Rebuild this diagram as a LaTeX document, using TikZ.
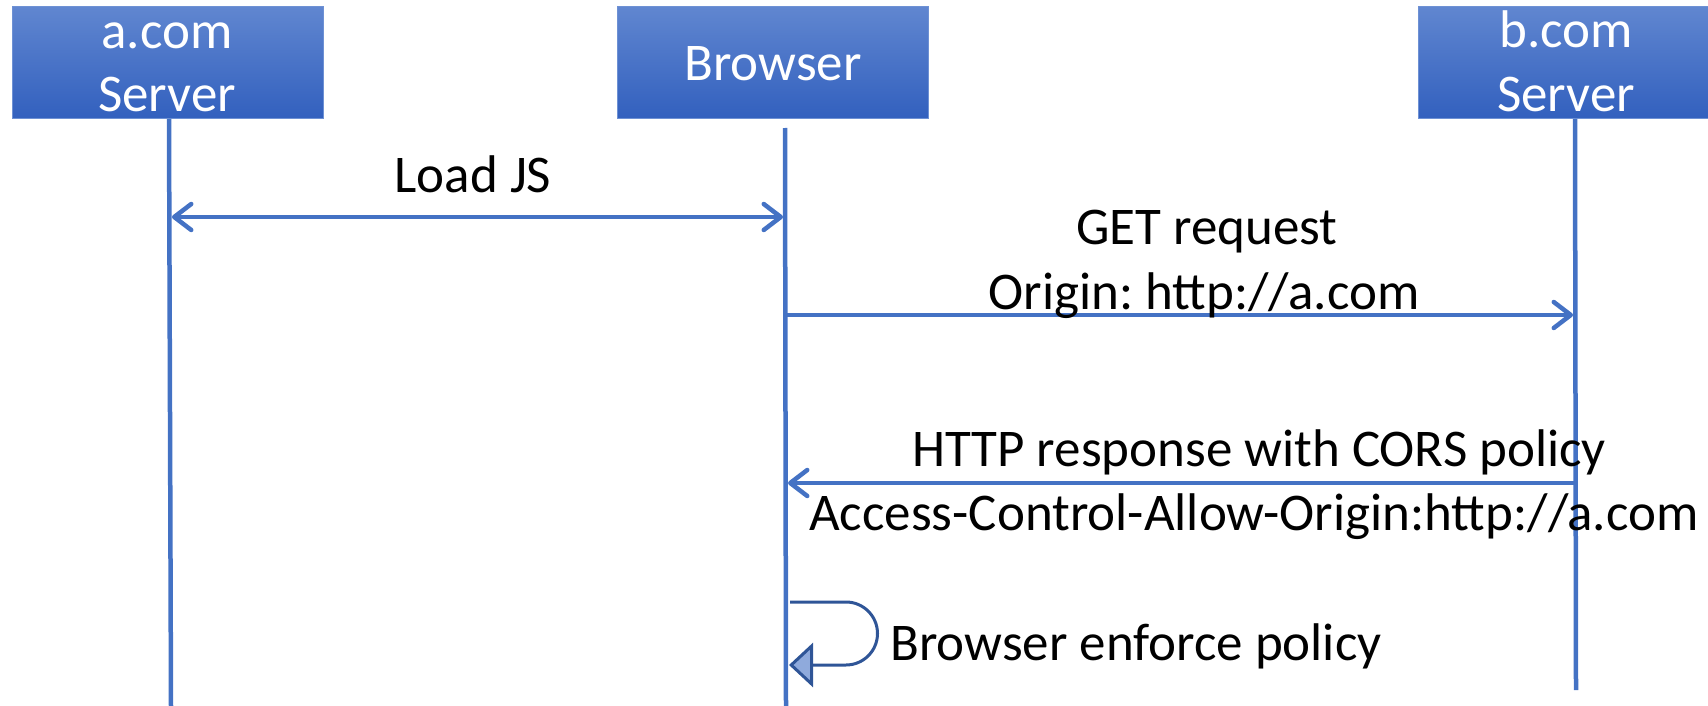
\documentclass[tikz,border=0pt]{standalone}
\usepackage{fontspec}
\setmainfont{Carlito}
\usetikzlibrary{arrows.meta}
\definecolor{lineblue}{RGB}{68,114,196}
\definecolor{darkblue}{RGB}{47,85,151}
\definecolor{tipblue}{RGB}{143,170,220}
\definecolor{boxtop}{RGB}{96,134,208}
\definecolor{boxbot}{RGB}{50,96,190}
\definecolor{boxedge}{RGB}{110,145,212}
\frenchspacing
\begin{document}
\begin{tikzpicture}[x=1pt,y=-1pt,
  actor/.style={draw=boxedge,line width=1pt,top color=boxtop,bottom color=boxbot},
  actortext/.style={text=white,font=\fontsize{53}{64}\selectfont,anchor=base,inner sep=0pt},
  lbl/.style={font=\fontsize{53}{64}\selectfont,anchor=base,inner sep=0pt},
  life/.style={draw=lineblue,line width=4.5pt},
  msg/.style={draw=lineblue,line width=4.5pt,line cap=round,
    arrows={-Straight Barb[length=17pt,width=26pt,line cap=round,line join=round]}},
  dmsg/.style={msg,arrows={Straight Barb[length=17pt,width=26pt,line cap=round,line join=round]-Straight Barb[length=17pt,width=26pt,line cap=round,line join=round]}},
  selfmsg/.style={draw=darkblue,line width=3pt,
    arrows={-Triangle[length=24pt,width=44pt,fill=tipblue,line join=miter]}}]
\useasboundingbox (0,0) rectangle (1708,706);
% boxes
\path[actor] (12,7) rectangle (323,119);
\path[actor] (617,7) rectangle (928,119);
\path[actor] (1418,7) rectangle (1716,119);
\node[actortext] (aname1) at (167,49) {a.com};
\node[actortext] (aname2) at (167,112) {Server};
\node[actortext] (bname) at (773,81) {Browser};
\node[actortext] (cname1) at (1566,48) {b.com};
\node[actortext] (cname2) at (1566,112) {Server};
% lifelines
\coordinate (atop) at (169,119);
\coordinate (abot) at (171,706);
\coordinate (btop) at (785,128);
\coordinate (bbot) at (786,706);
\coordinate (ctop) at (1575,119);
\coordinate (cbot) at (1576,690);
\draw[life] (atop) -- (abot);
\draw[life] (btop) -- (bbot);
\draw[life] (ctop) -- (cbot);
% messages
\coordinate (m1a) at (172,217);
\coordinate (m1b) at (783,217);
\draw[dmsg] (m1a) -- (m1b);
\node[lbl] (l1) at (473,192) {Load JS};
\coordinate (m2a) at (787,315);
\coordinate (m2b) at (1573,315);
\draw[msg] (m2a) -- (m2b);
\node[lbl] (l2a) at (1207,244) {GET request};
\node[lbl] (l2b) at (1204,309) {Origin: http://a.com};
\coordinate (m3a) at (1574,483);
\coordinate (m3b) at (788,483);
\draw[msg] (m3a) -- (m3b);
\node[lbl] (l3a) at (1259,466) {HTTP response with CORS policy};
\node[lbl] (l3b) at (1254,530) {Access-Control-Allow-Origin:http://a.com};
% self message
\coordinate (s1) at (790,602);
\coordinate (s2) at (846,602);
\coordinate (s3) at (789,665);
\draw[selfmsg] (s1) -- (s2) arc[start angle=-90,end angle=90,radius=31.5] -- (s3);
\node[lbl] (l4) at (1136,660) {Browser enforce policy};
\end{tikzpicture}
\end{document}
